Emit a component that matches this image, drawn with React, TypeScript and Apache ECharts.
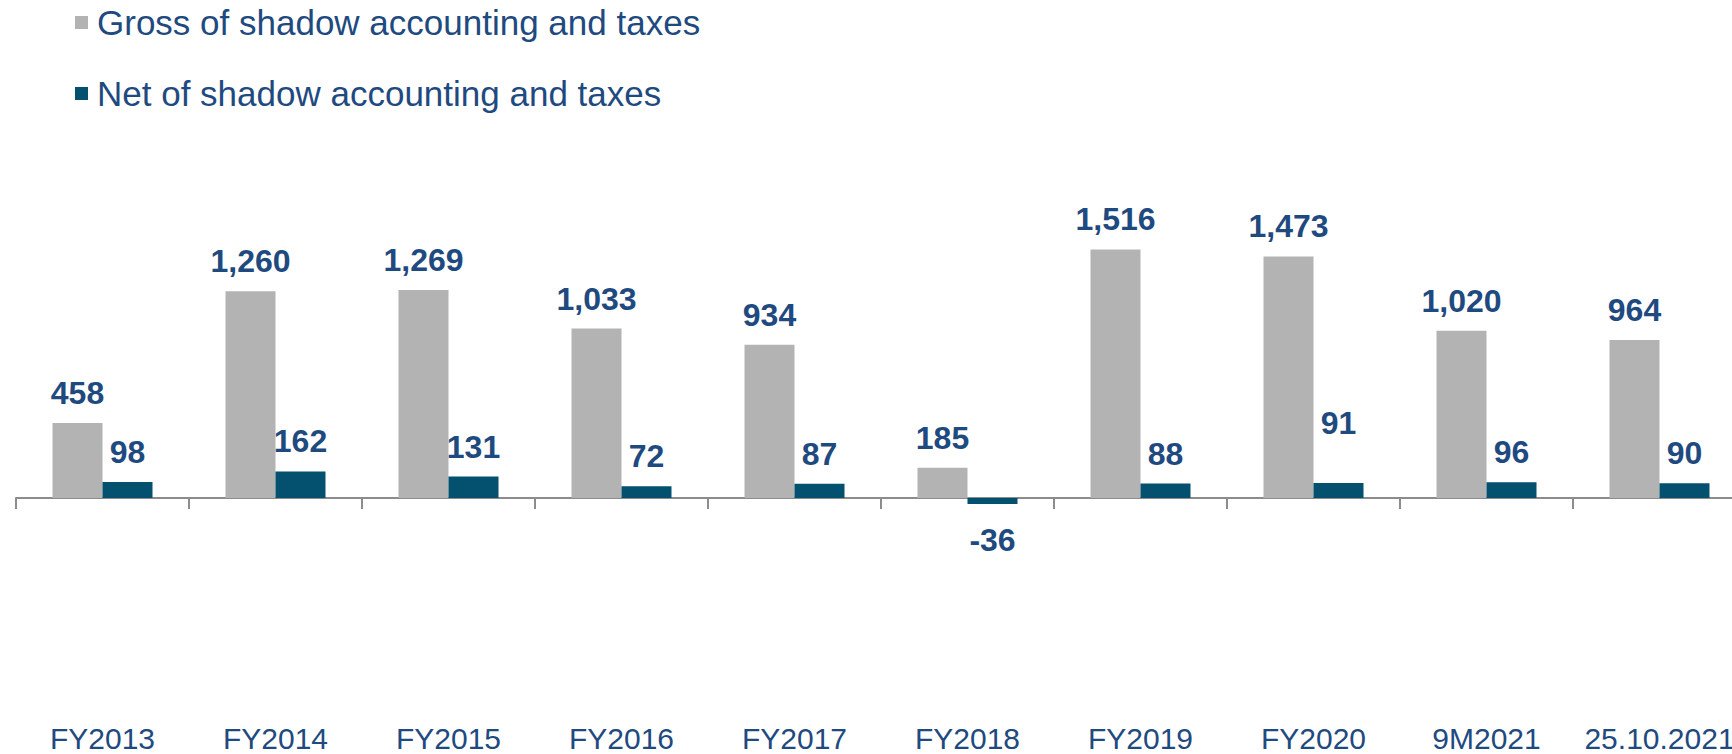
import React, { useEffect, useRef } from "react";
import * as echarts from "echarts";

const categories = ["FY2013", "FY2014", "FY2015", "FY2016", "FY2017", "FY2018", "FY2019", "FY2020", "9M2021", "25.10.2021"];
const grossValues = [458, 1260, 1269, 1033, 934, 185, 1516, 1473, 1020, 964];
const netValues = [98, 162, 131, 72, 87, -36, 88, 91, 96, 90];
const seriesNames = ["Gross of shadow accounting and taxes", "Net of shadow accounting and taxes"];

const BLUE = "#1F4A80";
const GRAY = "#B2B3B2";
const TEAL = "#03506F";
const AXIS = "#8C8C8C";
const FONT = "'Liberation Sans', Arial, sans-serif";

export default function App() {
  const ref = useRef<HTMLDivElement>(null);
  useEffect(() => {
    const chart = echarts.init(ref.current!, null, { renderer: "svg" });
    const fmt = (p: any) => Number(p.value).toLocaleString("en-US");
    const labelBase = {
      show: true,
      position: "top",
      distance: 14,
      color: BLUE,
      fontSize: 32,
      fontWeight: "bold",
      fontFamily: FONT,
      formatter: fmt,
    };
    const netData = netValues.map((v, i) => {
      if (v < 0) return { value: v, label: { position: "bottom", distance: 20 } };
      if (categories[i] === "FY2020") return { value: v, label: { offset: [0, -30] } };
      return v;
    });
    chart.setOption({
      animation: false,
      legend: {
        orient: "vertical",
        left: 75,
        top: 5,
        padding: 0,
        icon: "rect",
        itemWidth: 13,
        itemHeight: 13,
        itemGap: 36,
        textStyle: { fontSize: 35, color: BLUE, fontFamily: FONT, padding: [0, 0, 0, 4] },
        data: seriesNames,
      },
      grid: { left: 16, top: 170, width: 1730, height: 492, outerBoundsMode: "none", containLabel: false },
      xAxis: {
        type: "category",
        data: categories,
        axisLine: { onZero: true, lineStyle: { color: AXIS, width: 2 } },
        axisTick: { show: true, length: 11, lineStyle: { color: AXIS, width: 2 } },
        axisLabel: { margin: 61, fontSize: 30, color: BLUE, fontFamily: FONT, interval: 0 },
      },
      yAxis: { type: "value", min: -1000, max: 2000, show: false },
      series: [
        {
          name: seriesNames[0],
          type: "bar",
          data: grossValues,
          barWidth: 50,
          barGap: "0%",
          itemStyle: { color: GRAY },
          label: labelBase,
        },
        {
          name: seriesNames[1],
          type: "bar",
          data: netData,
          barWidth: 50,
          barGap: "0%",
          itemStyle: { color: TEAL },
          label: labelBase,
        },
      ],
    });
    return () => chart.dispose();
  }, []);
  return <div ref={ref} style={{ position: "absolute", left: 0, top: 0, width: 1732, height: 754 }} />;
}
